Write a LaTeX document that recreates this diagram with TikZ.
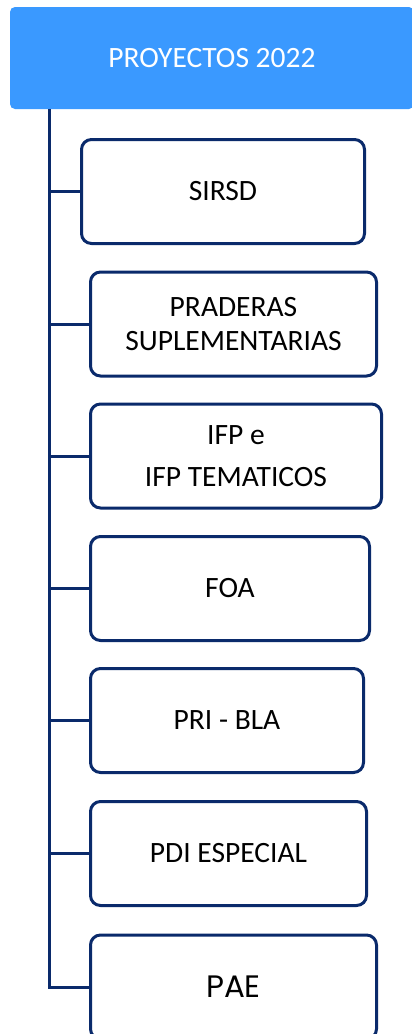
\documentclass[tikz,border=0pt]{standalone}
\usepackage{fontspec}
\setmainfont{Carlito}
\newfontfamily\paefont{Poppins}
\definecolor{navy}{HTML}{0A2A6B}
\definecolor{headblue}{HTML}{3A99FF}
\begin{document}
\begin{tikzpicture}[x=1pt,y=-1pt]
\tikzstyle{Head} = [fill=headblue, rounded corners=5, minimum width=404, minimum height=102, inner sep=0, text=white, font={\fontsize{29.5}{34}\selectfont}]
\tikzstyle{Box} = [draw=navy, line width=3, rounded corners=10, fill=white, inner sep=0, minimum height=104, align=center, font={\fontsize{29.5}{34}\selectfont}]
\tikzstyle{Line} = [draw=navy, line width=3]
\useasboundingbox (0,0) rectangle (412,1034);
\node [Head] (v0) at (212,58) {PROYECTOS 2022};
\node [Box, minimum width=283] (v1) at (223,191.5) {SIRSD};
\node [Box, minimum width=286] (v2) at (233.5,324) {PRADERAS\\SUPLEMENTARIAS};
\node [Box, minimum width=291, font={\fontsize{29.5}{42}\selectfont}] (v3) at (236,456) {IFP e\\IFP TEMATICOS};
\node [Box, minimum width=279] (v4) at (230,588.5) {FOA};
\node [Box, minimum width=273] (v5) at (227,720.5) {PRI - BLA};
\node [Box, minimum width=276] (v6) at (228.5,853.5) {PDI ESPECIAL};
\node [Box, minimum width=286, font={\paefont\fontsize{31}{34}\selectfont}] (v7) at (233.5,987) {PAE};
\coordinate (t0) at (49,109);
\draw [Line] (t0) |- (v1);
\draw [Line] (t0) |- (v2);
\draw [Line] (t0) |- (v3);
\draw [Line] (t0) |- (v4);
\draw [Line] (t0) |- (v5);
\draw [Line] (t0) |- (v6);
\draw [Line] (t0) |- (v7);
\end{tikzpicture}
\end{document}
